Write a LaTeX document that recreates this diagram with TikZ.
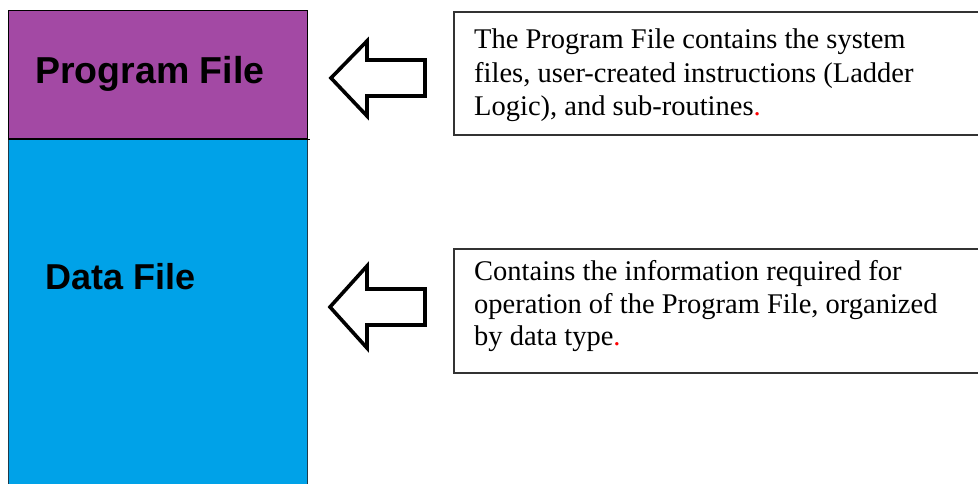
\documentclass[tikz,border=0pt]{standalone}
\usepackage{fontspec}
\setmainfont{Liberation Serif}
\newfontfamily\labelfont{Liberation Sans}
\definecolor{progpurple}{HTML}{A349A4}
\definecolor{datablue}{HTML}{00A2E8}
\definecolor{edgedark}{HTML}{1F3A4A}
\tikzset{
  x=1pt, y=-1pt,
  blockarrow/.style={draw=black, line width=3.6pt, fill=white, line join=miter},
  memlabel/.style={font=\labelfont\bfseries\fontsize{36}{40}\selectfont, anchor=base west, inner sep=0pt},
  descline/.style={font=\fontsize{28.5}{33}\selectfont, anchor=base west, inner sep=0pt},
  descbox/.style={draw=black!80, line width=1.7pt, anchor=north west, inner sep=0pt, minimum width=560pt}
}
\begin{document}
\begin{tikzpicture}
\useasboundingbox (0,0) rectangle (978,483);
% memory blocks
\node[fill=datablue, draw=edgedark, line width=1pt, anchor=north west, inner sep=0pt,
      minimum width=299pt, minimum height=360pt] (datafile) at (8,138) {};
\node[fill=progpurple, draw=black, line width=1pt, anchor=north west, inner sep=0pt,
      minimum width=299pt, minimum height=128pt] (progfile) at (8,10) {};
\draw[line width=1pt] (progfile.south west) -- ([xshift=2pt]progfile.south east);
\node[memlabel, font=\labelfont\bfseries\fontsize{37.5}{40}\selectfont] (proglabel) at (35,83) {Program File};
\node[memlabel] (datalabel) at (45,289) {Data File};
% block arrows
\draw[blockarrow] (331,78) -- (367,41) -- (367,60) -- (425,60) -- (425,96) -- (367,96) -- (367,116) -- cycle;
\draw[blockarrow] (330,307) -- (367,266) -- (367,289) -- (425,289) -- (425,325) -- (367,325) -- (367,348) -- cycle;
% description boxes
\node[descbox, minimum height=123pt] (progdesc) at (453,11) {};
\node[descline] (pd1) at (474,48) {The Program File contains the system};
\node[descline] (pd2) at (474,82) {files, user-created instructions (Ladder};
\node[descline] (pd3) at (474,115) {Logic), and sub-routines\textcolor{red}{.}};
\node[descbox, minimum height=124pt] (datadesc) at (453,248) {};
\node[descline] (dd1) at (474,280) {Contains the information required for};
\node[descline] (dd2) at (474,313) {operation of the Program File, organized};
\node[descline] (dd3) at (474,345) {by data type\textcolor{red}{.}};
\end{tikzpicture}
\end{document}
